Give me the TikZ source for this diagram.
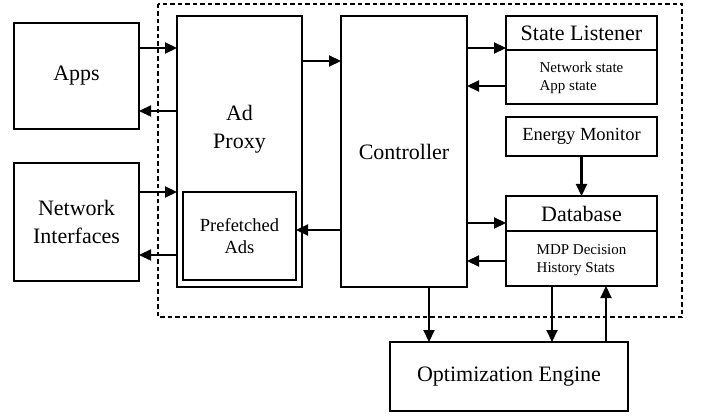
\documentclass[tikz,border=0pt]{standalone}
\usepackage{fontspec}
\setmainfont{Liberation Serif}
\usetikzlibrary{arrows.meta}
\begin{document}
\begin{tikzpicture}[x=1pt,y=-1pt,
  box/.style={draw, line width=2.2pt, inner sep=0pt, outer sep=0pt, align=center},
  big/.style={font=\fontsize{22}{28}\selectfont},
  mid/.style={font=\fontsize{18.5}{22}\selectfont},
  small/.style={font=\fontsize{15}{18}\selectfont, align=left},
  arr/.style={line width=2.2pt, -{Triangle[length=12pt,width=11pt]}},
  dashbox/.style={draw, line width=2.2pt, dash pattern=on 4.5pt off 3pt}]
\useasboundingbox (0,0) rectangle (702,417);
% dashed frame
\draw[dashbox] (158,4) rectangle (682,317);
% boxes
\node[box, big, minimum width=125pt, minimum height=106pt] (apps) at (76.5,76) {Apps};
\node[box, big, minimum width=125pt, minimum height=118pt] (ni) at (76.5,222) {Network\\Interfaces};
\node[box, minimum width=125pt, minimum height=271pt] (adproxy) at (239.5,151.5) {};
\node[big, align=center] (adtext) at (239.5,129) {Ad\\Proxy};
\node[box, mid, minimum width=113pt, minimum height=88pt] (pref) at (239.5,236) {Prefetched\\Ads};
\node[box, big, minimum width=126pt, minimum height=271pt] (ctrl) at (404,151.5) {Controller};
\node[box, big, minimum width=151pt, minimum height=34pt] (slh) at (581.5,33) {State Listener};
\node[box, minimum width=151pt, minimum height=54pt] (slb) at (581.5,77) {};
\node[small] (sltext) at (581.5,78) {Network state\\App state};
\node[box, mid, minimum width=151pt, minimum height=39pt] (em) at (581.5,136.5) {Energy Monitor};
\node[box, big, minimum width=151pt, minimum height=35pt] (dbh) at (581.5,213.5) {Database};
\node[box, minimum width=151pt, minimum height=55pt] (dbb) at (581.5,258.5) {};
\node[small] (dbtext) at (581.5,260) {MDP Decision\\History Stats};
\node[box, big, minimum width=238pt, minimum height=69pt] (opt) at (509,376.5) {Optimization Engine};
% connectors
\draw[arr] (apps.east |- 0,48) -- (adproxy.west |- 0,48);
\draw[arr] (adproxy.west |- 0,111) -- (apps.east |- 0,111);
\draw[arr] (ni.east |- 0,192) -- (adproxy.west |- 0,192);
\draw[arr] (adproxy.west |- 0,255) -- (ni.east |- 0,255);
\draw[arr] (adproxy.east |- 0,61) -- (ctrl.west |- 0,61);
\draw[arr] (ctrl.west |- 0,230) -- (pref.east |- 0,230);
\draw[arr] (ctrl.east |- 0,48) -- (slh.west |- 0,48);
\draw[arr] (slb.west |- 0,86) -- (ctrl.east |- 0,86);
\draw[arr] (em.south) -- (dbh.north);
\draw[arr] (ctrl.east |- 0,223) -- (dbh.west |- 0,223);
\draw[arr] (dbb.west |- 0,261) -- (ctrl.east |- 0,261);
\draw[arr] (429,0 |- ctrl.south) -- (429,0 |- opt.north);
\draw[arr] (552,0 |- dbb.south) -- (552,0 |- opt.north);
\draw[arr] (606,0 |- opt.north) -- (606,0 |- dbb.south);
\end{tikzpicture}
\end{document}
